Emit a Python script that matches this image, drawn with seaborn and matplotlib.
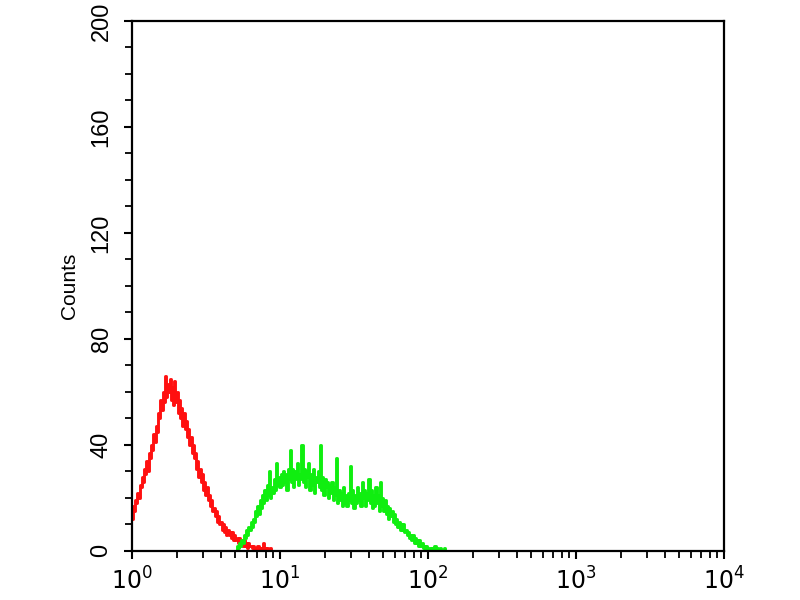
import matplotlib
matplotlib.use("Agg")
import matplotlib.pyplot as plt
import matplotlib.ticker as mticker
import seaborn as sns
import numpy as np

# flow histogram, 128 channels per decade, counts
CH_PER_DECADE = 128

red_first_channel = 0
red_counts = [12, 17, 15, 19, 18, 22, 20, 25,
              24, 28, 26, 31, 29, 34, 30, 37,
              35, 40, 38, 44, 41, 47, 45, 52,
              50, 57, 53, 60, 56, 66, 58, 63,
              60, 65, 57, 62, 55, 64, 56, 60,
              52, 57, 50, 54, 47, 52, 46, 49,
              43, 46, 40, 43, 37, 40, 35, 37,
              31, 34, 28, 31, 26, 29, 23, 26,
              21, 24, 19, 21, 17, 19, 15, 16,
              13, 15, 11, 13, 10, 11, 8, 10,
              7, 9, 6, 8, 6, 7, 5, 7,
              4, 6, 4, 5, 3, 5, 3, 4,
              2, 4, 2, 3, 1, 3, 2, 2,
              1, 2, 1, 1, 0, 2, 1, 0,
              1, 0, 3, 1, 0, 1, 0, 0,
              1, 0]

green_first_channel = 90
green_counts = [0, 2, 1, 3, 2, 4, 3, 6,
                5, 8, 6, 9, 8, 11, 9, 12,
                11, 15, 13, 17, 14, 19, 16, 21,
                18, 23, 19, 25, 21, 30, 20, 24,
                22, 27, 23, 33, 25, 28, 24, 29,
                25, 30, 26, 29, 23, 31, 27, 38,
                26, 31, 24, 30, 27, 33, 25, 29,
                27, 40, 26, 31, 24, 30, 28, 33,
                23, 29, 25, 31, 22, 28, 26, 30,
                24, 40, 23, 28, 21, 27, 24, 26,
                20, 25, 22, 26, 19, 24, 21, 35,
                18, 23, 19, 22, 17, 24, 18, 21,
                17, 22, 19, 32, 18, 23, 16, 21,
                18, 24, 19, 22, 17, 26, 20, 23,
                17, 22, 19, 27, 18, 23, 16, 21,
                17, 24, 18, 21, 15, 26, 17, 20,
                15, 19, 14, 17, 12, 16, 13, 15,
                11, 14, 10, 12, 9, 11, 8, 10,
                8, 10, 7, 8, 6, 7, 5, 6,
                4, 6, 3, 5, 3, 4, 2, 4,
                2, 3, 1, 2, 1, 2, 0, 1,
                1, 0, 1, 0, 2, 0, 1, 0,
                0, 1, 0, 0, 1, 0, 0, 0]

x_ticks = [1, 10, 100, 1000, 10000]
x_ticklabels = [r"$10^0$", r"$10^1$", r"$10^2$", r"$10^3$", r"$10^4$"]
y_ticks = [0, 40, 80, 120, 160, 200]


def channel_values(first, n):
    return 10 ** ((first + np.arange(n)) / CH_PER_DECADE)


sns.set_style("white")
plt.rcParams["font.family"] = ["Liberation Sans", "DejaVu Sans"]

fig, ax = plt.subplots(figsize=(8, 6), dpi=100)
fig.subplots_adjust(left=0.165, right=0.905, top=0.965, bottom=0.082)

sns.lineplot(x=channel_values(red_first_channel, len(red_counts)), y=red_counts,
             ax=ax, color="#ff1010", lw=2.1, drawstyle="steps-mid", estimator=None)
sns.lineplot(x=channel_values(green_first_channel, len(green_counts)), y=green_counts,
             ax=ax, color="#10ee10", lw=2.1, drawstyle="steps-mid", estimator=None)

ax.set_xscale("log")
ax.set_xlim(1, 10000)
ax.set_ylim(0, 200)
ax.set_xticks(x_ticks)
ax.set_xticklabels(x_ticklabels)
ax.xaxis.set_minor_locator(mticker.LogLocator(base=10, subs=np.arange(2, 10)))
ax.xaxis.set_minor_formatter(mticker.NullFormatter())
ax.set_yticks(y_ticks)
ax.yaxis.set_minor_locator(mticker.MultipleLocator(10))

for s in ax.spines.values():
    s.set_color("black")
    s.set_linewidth(1.6)

ax.tick_params(axis="both", which="major", direction="out", length=6, width=1.5,
               labelsize=17, color="black", labelcolor="black", left=True, bottom=True)
ax.tick_params(axis="both", which="minor", direction="out", length=5, width=1.3,
               color="black", left=True, bottom=True)
ax.tick_params(axis="y", labelrotation=90, pad=8)
ax.tick_params(axis="x", pad=6)
for lab in ax.get_yticklabels():
    lab.set_va("center")

ax.set_ylabel("Counts", fontsize=15, labelpad=8, color="black")
ax.set_xlabel("")

fig.savefig("out.png", dpi=100)
